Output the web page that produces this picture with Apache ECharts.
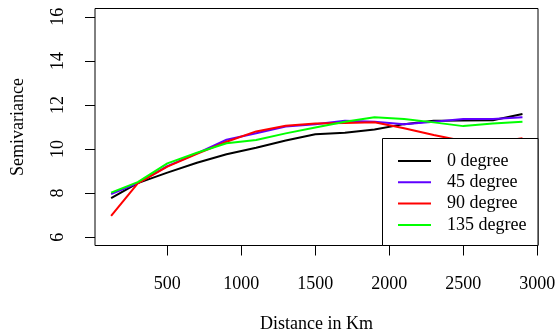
<!DOCTYPE html>
<html>
<head>
<meta charset="utf-8">
<script src="https://cdn.jsdelivr.net/npm/echarts@6/dist/echarts.min.js"></script>
<style>
html,body{margin:0;padding:0;background:#fff;}
#chart{width:557px;height:335px;}
</style>
</head>
<body>
<div id="chart"></div>
<script>
var distances = [120, 300, 500, 700, 900, 1100, 1300, 1500, 1700, 1900, 2100, 2300, 2500, 2700, 2900];
var deg0   = [7.77, 8.45, 8.93, 9.38, 9.76, 10.06, 10.39, 10.67, 10.74, 10.89, 11.13, 11.28, 11.29, 11.31, 11.59];
var deg45  = [7.95, 8.45, 9.22, 9.80, 10.42, 10.72, 11.02, 11.13, 11.28, 11.24, 11.12, 11.24, 11.36, 11.36, 11.44];
var deg90  = [6.97, 8.44, 9.20, 9.78, 10.33, 10.80, 11.06, 11.16, 11.18, 11.22, 10.94, 10.64, 10.36, 10.30, 10.49];
var deg135 = [8.02, 8.50, 9.35, 9.83, 10.26, 10.41, 10.71, 10.98, 11.24, 11.44, 11.36, 11.21, 11.04, 11.16, 11.24];
var xTicks = [500, 1000, 1500, 2000, 2500, 3000];
var yTicks = [6, 8, 10, 12, 14, 16];
var seriesNames = ['0 degree', '45 degree', '90 degree', '135 degree'];
var seriesColors = ['#000000', '#5f00ff', '#ff0000', '#00ff00'];

function pairs(ys) { return distances.map(function (d, i) { return [d, ys[i]]; }); }
var allData = [deg0, deg45, deg90, deg135];
var font = 'Liberation Serif';
var fs = 18;

var chart = echarts.init(document.getElementById('chart'), null, {renderer: 'canvas'});
chart.setOption({
  animation: false,
  backgroundColor: '#ffffff',
  textStyle: {fontFamily: font},
  grid: {left: 95, right: 19, top: 8.5, bottom: 89.5, outerBoundsMode: 'none', containLabel: false,
         show: true, borderColor: '#000', borderWidth: 1, backgroundColor: 'transparent'},
  xAxis: {
    type: 'value', min: 11, max: 3005,
    name: 'Distance in Km', nameLocation: 'middle', nameGap: 70,
    nameTextStyle: {fontFamily: font, fontSize: fs, color: '#000'},
    axisLine: {show: false},
    splitLine: {show: false},
    axisTick: {show: true, inside: false, length: 10, lineStyle: {color: '#000', width: 1}, customValues: xTicks},
    axisLabel: {fontFamily: font, fontSize: fs, color: '#000', margin: 30, customValues: xTicks, formatter: function (v) { return String(v); }}
  },
  yAxis: {
    type: 'value', min: 5.62, max: 16.38,
    name: 'Semivariance', nameLocation: 'middle', nameGap: 68,
    nameTextStyle: {fontFamily: font, fontSize: fs, color: '#000'},
    axisLine: {show: false},
    splitLine: {show: false},
    axisTick: {show: true, inside: false, length: 10, lineStyle: {color: '#000', width: 1}, customValues: yTicks},
    axisLabel: {fontFamily: font, fontSize: fs, color: '#000', margin: 28, rotate: 90, customValues: yTicks, formatter: function (v) { return String(v); }}
  },
  graphic: [{
    type: 'rect', z: 50, silent: true,
    shape: {x: 382.5, y: 138.5, width: 155.5, height: 107},
    style: {fill: '#fff', stroke: '#000', lineWidth: 1}
  }],
  legend: {
    orient: 'vertical',
    left: 398, top: 152,
    data: seriesNames.map(function (n) { return {name: n, icon: 'rect'}; }),
    itemWidth: 33, itemHeight: 2, itemGap: 3.3,
    padding: 0,
    textStyle: {fontFamily: font, fontSize: fs, color: '#000', padding: [0, 0, 0, 11]},
    z: 60
  },
  series: allData.map(function (d, i) {
    return {
      name: seriesNames[i], type: 'line', data: pairs(d),
      symbol: 'none', showSymbol: false,
      lineStyle: {color: seriesColors[i], width: 2},
      itemStyle: {color: seriesColors[i]},
      z: 2 + i
    };
  })
});
</script>
</body>
</html>
